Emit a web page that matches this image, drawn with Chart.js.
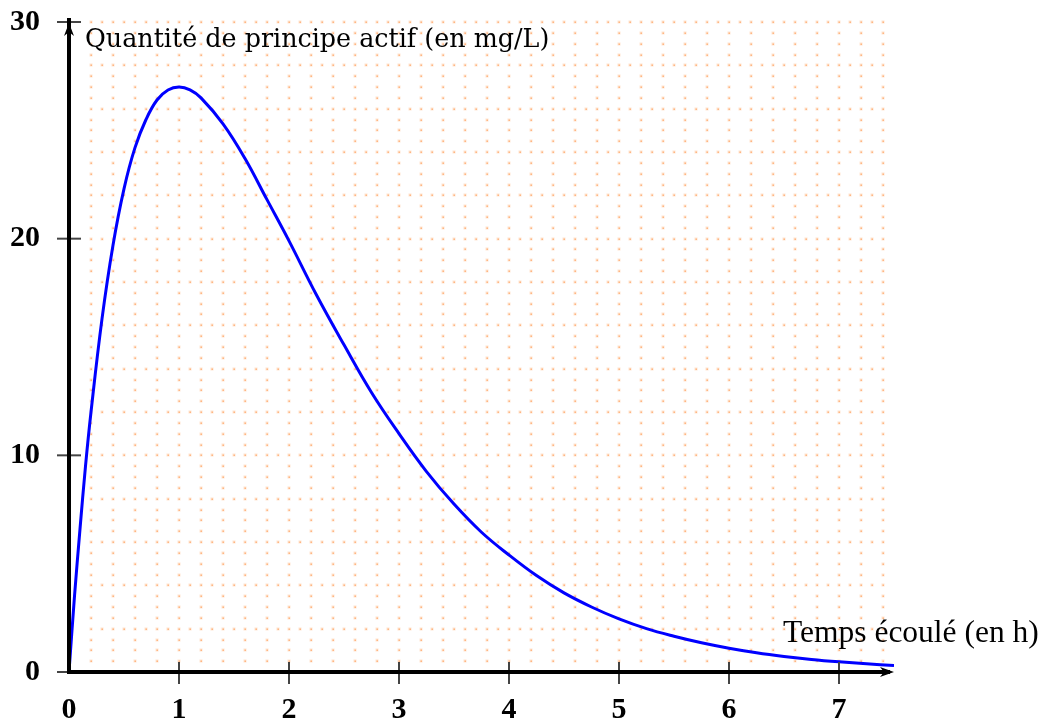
<!DOCTYPE html>
<html>
<head>
<meta charset="utf-8">
<script src="https://cdn.jsdelivr.net/npm/chart.js@4/dist/chart.umd.min.js"></script>
<style>
  html, body { margin: 0; padding: 0; background: #fff; }
  #wrap { width: 1052px; height: 723px; position: relative; }
</style>
</head>
<body>
<div id="wrap"><canvas id="c"></canvas></div>
<script>
// Elapsed time (h) and concentration (mg/L).
const times = [0, 0.05, 0.1, 0.15, 0.2, 0.3, 0.4, 0.5, 0.6, 0.7, 0.8, 0.9, 1, 1.1, 1.2, 1.4, 1.6, 1.8, 2, 2.25, 2.5, 2.75, 3, 3.25, 3.5, 3.75, 4, 4.25, 4.5, 4.75, 5, 5.25, 5.5, 5.75, 6, 6.25, 6.5, 6.75, 7, 7.25, 7.5];
const concentration = [0, 3.5, 6.6, 9.5, 12.0, 16.3, 19.7, 22.3, 24.2, 25.5, 26.4, 26.86, 27.0, 26.87, 26.5, 25.3, 23.7, 21.8, 19.9, 17.4, 15.1, 12.9, 11.0, 9.25, 7.75, 6.45, 5.4, 4.45, 3.65, 3.0, 2.45, 2.0, 1.65, 1.35, 1.1, 0.89, 0.72, 0.58, 0.47, 0.38, 0.3];
const xTicks = [0, 1, 2, 3, 4, 5, 6, 7];
const yTicks = [0, 10, 20, 30];
const yTitle = 'Quantité de principe actif (en mg/L)';
const xTitle = 'Temps écoulé (en h)';

const tickFont = { family: 'Liberation Serif', size: 30, weight: 'bold' };

// Chart.js reserves room for half-labels at the ends; the reference doesn't.
function noEdgePadding(s) {
  s.paddingTop = 0; s.paddingBottom = 0; s.paddingLeft = 0; s.paddingRight = 0;
}

// dotted orange background grid + hand-drawn axes with arrows
const axesPlugin = {
  id: 'axes',
  beforeDatasetsDraw(chart) {
    const { ctx, scales: { x, y } } = chart;
    ctx.save();
    for (let gy = 0.5; gy <= 30.001; gy += 0.5) {
      const py = Math.round(y.getPixelForValue(gy));
      const even = Math.abs(gy / 2 - Math.round(gy / 2)) < 1e-6;
      const step = even ? 0.1 : 0.2;
      for (let gx = 0.2; gx <= 7.45; gx += step) {
        const px = Math.round(x.getPixelForValue(gx));
        ctx.fillStyle = 'rgba(255,180,120,0.35)';
        ctx.fillRect(px - 1.5, py - 1.5, 3, 3);
        ctx.fillStyle = 'rgba(255,150,80,0.6)';
        ctx.fillRect(px - 0.5, py - 0.5, 1.5, 1.5);
      }
    }
    ctx.restore();
  },
  afterDatasetsDraw(chart) {
    const { ctx, scales: { x, y } } = chart;
    const x0 = x.getPixelForValue(0), y0 = y.getPixelForValue(0);
    const xEnd = x.getPixelForValue(7.5), yTop = y.getPixelForValue(30);
    ctx.save();
    // tick marks
    ctx.strokeStyle = '#444';
    ctx.lineWidth = 2;
    xTicks.forEach(v => {
      if (v === 0) return;
      const px = x.getPixelForValue(v);
      ctx.beginPath(); ctx.moveTo(px, y0 - 10); ctx.lineTo(px, y0 + 12); ctx.stroke();
    });
    yTicks.forEach(v => {
      const py = y.getPixelForValue(v);
      ctx.beginPath(); ctx.moveTo(x0 - 12, py); ctx.lineTo(x0 + 12, py); ctx.stroke();
    });
    // axes
    ctx.strokeStyle = '#000';
    ctx.fillStyle = '#000';
    ctx.lineWidth = 4;
    ctx.beginPath(); ctx.moveTo(x0, y0 + 2); ctx.lineTo(x0, yTop - 4); ctx.stroke();
    ctx.beginPath(); ctx.moveTo(x0 - 2, y0); ctx.lineTo(xEnd - 4, y0); ctx.stroke();
    ctx.beginPath();
    ctx.moveTo(x0, yTop + 1); ctx.lineTo(x0 - 5, yTop + 14); ctx.lineTo(x0, yTop + 10); ctx.lineTo(x0 + 5, yTop + 14);
    ctx.closePath(); ctx.fill();
    ctx.beginPath();
    ctx.moveTo(xEnd, y0); ctx.lineTo(xEnd - 14, y0 - 5); ctx.lineTo(xEnd - 10, y0); ctx.lineTo(xEnd - 14, y0 + 5);
    ctx.closePath(); ctx.fill();
    // axis titles
    ctx.fillStyle = '#000';
    ctx.textBaseline = 'alphabetic';
    ctx.textAlign = 'left';
    ctx.font = '25.4px "DejaVu Serif"';
    ctx.fillText(yTitle, 85, 47);
    ctx.font = '31.5px "Liberation Serif"';
    ctx.fillText(xTitle, 783, 642);
    ctx.restore();
  }
};

new Chart(document.getElementById('c'), {
  type: 'line',
  data: {
    datasets: [{
      data: times.map((t, i) => ({ x: t, y: concentration[i] })),
      borderColor: '#0000ff',
      borderWidth: 3,
      pointRadius: 0,
      tension: 0.4,
      fill: false,
    }]
  },
  options: {
    responsive: true,
    maintainAspectRatio: false,
    animation: false,
    layout: { padding: { top: 22, right: 158, left: 0, bottom: 0 } },
    plugins: { legend: { display: false }, tooltip: { enabled: false } },
    scales: {
      x: {
        type: 'linear', min: 0, max: 7.5,
        grid: { display: false, drawTicks: false },
        border: { display: false },
        afterBuildTicks: s => { s.ticks = xTicks.map(v => ({ value: v })); },
        afterFit: s => { s.height = 51; noEdgePadding(s); },
        ticks: { font: tickFont, color: '#000', padding: 20, maxRotation: 0, autoSkip: false },
      },
      y: {
        min: 0, max: 30,
        grid: { display: false, drawTicks: false },
        border: { display: false },
        afterBuildTicks: s => { s.ticks = yTicks.map(v => ({ value: v })); },
        afterFit: s => { s.width = 69; noEdgePadding(s); },
        ticks: { font: tickFont, color: '#000', padding: 29 },
      }
    }
  },
  plugins: [axesPlugin]
});
</script>
</body>
</html>
